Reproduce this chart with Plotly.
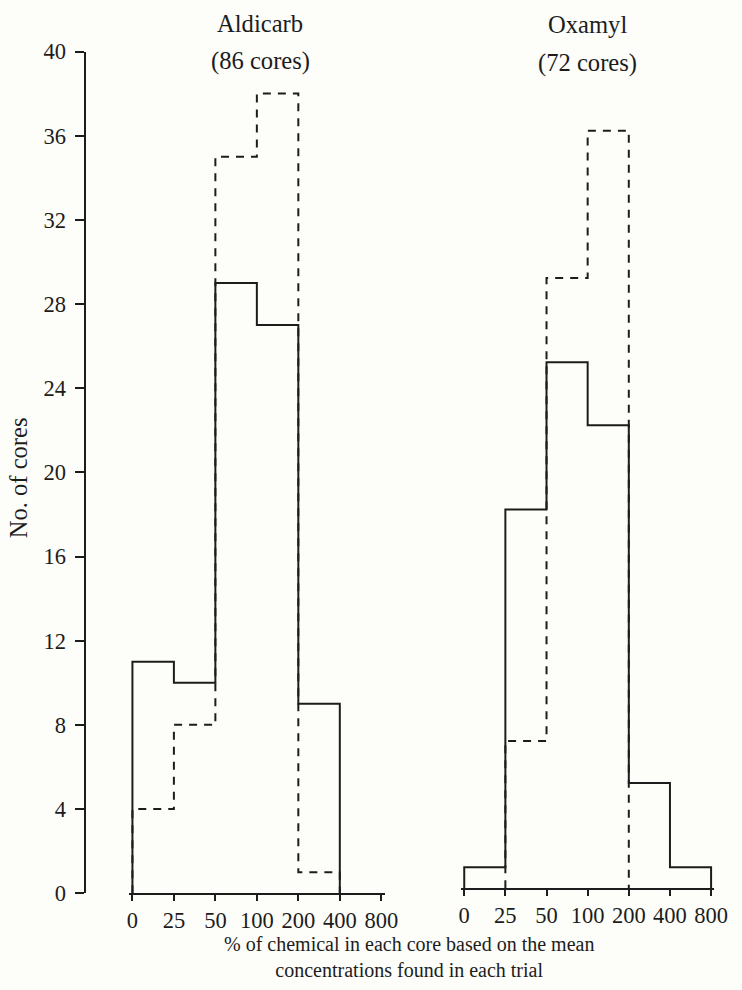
import plotly.graph_objects as go

# ---------------- data ----------------
bin_edges = ["0", "25", "50", "100", "200", "400", "800"]

aldicarb_solid = [11, 10, 29, 27, 9, 0]
aldicarb_dashed = [4, 8, 35, 38, 1, 0]

oxamyl_solid = [1, 18, 25, 22, 5, 1]
oxamyl_dashed = [0, 7, 29, 36, 0, 0]

y_ticks = [0, 4, 8, 12, 16, 20, 24, 28, 32, 36, 40]

# ---------------- layout helpers ----------------
W, H = 742, 990
BG = "#fdfdf9"
INK = "#1c1c1c"
NUM_FONT = "Liberation Serif"
TXT_FONT = "Liberation Serif"

# the photographed page is slightly shrunk/offset; map target picture px -> figure paper
SX, AX = 0.979, 1.5
SY, AY = 0.974, 12.5


def px_x(p):
    return ((p - AX) / SX) / W


def px_y(p):
    return 1 - ((p - AY) / SY) / H


def fs(size):
    return round(size / 0.976, 1)


def step_xy(values):
    nz = [i for i, v in enumerate(values) if v != 0]
    i0, i1 = nz[0], nz[-1]
    xs = [i0] + list(range(i0, i1 + 1)) + [i1 + 1]
    ys = [0] + list(values[i0:i1 + 1]) + [0]
    return xs, ys


PAD = 0.08


def xdomain(p0, p6):
    a, b = px_x(p0), px_x(p6)
    unit = (b - a) / 6.0
    return [a - PAD * unit, b + PAD * unit]


fig = go.Figure()

solid_line = dict(color=INK, width=2, shape="hv")
dash_line = dict(color=INK, width=2, shape="hv", dash="8px,7px")

for vals, ln, xa, ya in [
    (aldicarb_dashed, dash_line, "x", "y"),
    (aldicarb_solid, solid_line, "x", "y"),
    (oxamyl_dashed, dash_line, "x2", "y2"),
    (oxamyl_solid, solid_line, "x2", "y2"),
]:
    xs, ys = step_xy(vals)
    fig.add_trace(go.Scatter(x=xs, y=ys, mode="lines", line=ln,
                             xaxis=xa, yaxis=ya, showlegend=False,
                             hoverinfo="skip"))

tickvals = list(range(len(bin_edges)))
xaxis_common = dict(
    range=[-PAD, len(bin_edges) - 1 + PAD],
    tickmode="array", tickvals=tickvals, ticktext=bin_edges,
    ticks="outside", ticklen=6, tickwidth=2, tickcolor=INK,
    showline=True, linecolor=INK, linewidth=2,
    showgrid=False, zeroline=False,
    tickfont=dict(family=NUM_FONT, size=fs(22), color=INK),
    ticklabelstandoff=0,
)

fig.update_layout(
    width=W, height=H,
    margin=dict(l=0, r=0, t=0, b=0),
    paper_bgcolor=BG, plot_bgcolor=BG,
    xaxis=dict(domain=xdomain(132, 381), anchor="y", **xaxis_common),
    xaxis2=dict(domain=xdomain(464, 711), anchor="y2", **xaxis_common),
    yaxis=dict(
        domain=[px_y(893), px_y(52)], range=[0, 40],
        anchor="free", position=px_x(85),
        tickmode="array", tickvals=y_ticks,
        ticks="outside", ticklen=9, tickwidth=2, tickcolor=INK,
        showline=True, linecolor=INK, linewidth=2,
        showgrid=False, zeroline=False,
        tickfont=dict(family=NUM_FONT, size=fs(22), color=INK),
        ticklabelstandoff=5,
    ),
    yaxis2=dict(
        domain=[px_y(888), px_y(47)], range=[0, 40],
        anchor="x2", showline=False, showticklabels=False, ticks="",
        showgrid=False, zeroline=False,
    ),
)

ann_font = dict(family=TXT_FONT, size=fs(24), color=INK)
annotations = [
    dict(text="Aldicarb", x=px_x(260), y=px_y(24)),
    dict(text="(86 cores)", x=px_x(260), y=px_y(61)),
    dict(text="Oxamyl", x=px_x(587), y=px_y(25)),
    dict(text="(72 cores)", x=px_x(587), y=px_y(63)),
]
for a in annotations:
    fig.add_annotation(xref="paper", yref="paper", showarrow=False,
                       xanchor="center", yanchor="middle", font=ann_font, **a)

fig.add_annotation(
    text="% of chemical in each core based on the mean<br>concentrations found in each trial",
    xref="paper", yref="paper", x=px_x(409), y=px_y(957), showarrow=False,
    xanchor="center", yanchor="middle", align="center",
    font=dict(family=TXT_FONT, size=fs(19.5), color=INK))

fig.add_annotation(text="No. of cores", xref="paper", yref="paper",
                   x=px_x(18), y=px_y(478), showarrow=False, textangle=-90,
                   xanchor="center", yanchor="middle", font=ann_font)

fig.write_html(
    "out.html",
    config={"displayModeBar": False, "staticPlot": True},
    post_script="document.body.style.margin='0';document.body.style.background='%s';" % BG,
)
